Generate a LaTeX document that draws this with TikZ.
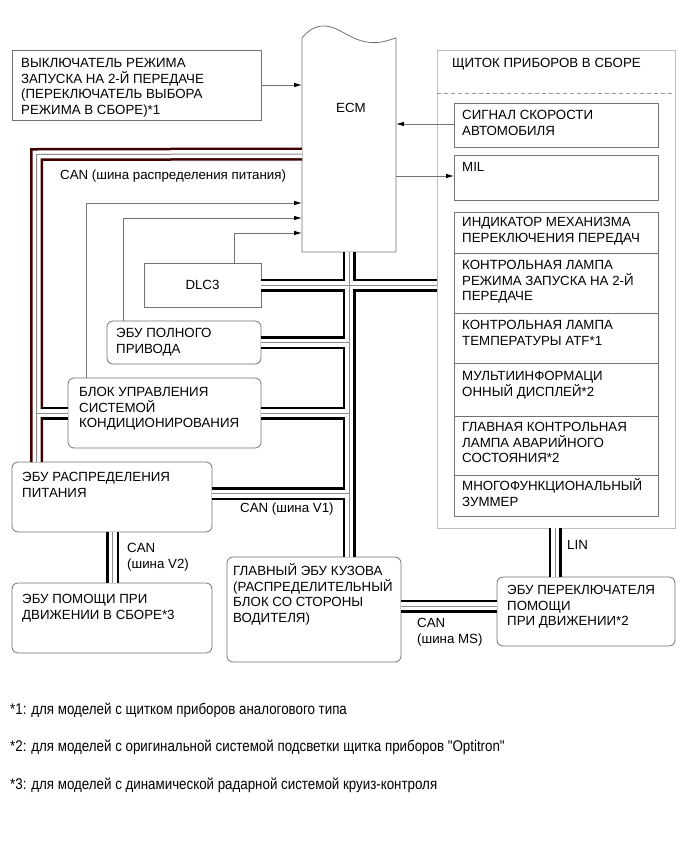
\documentclass[tikz,border=0pt]{standalone}
\usepackage{fontspec}
\usepackage{graphicx}
\setmainfont{Liberation Sans}
\usetikzlibrary{arrows.meta}
\newcommand\mainfs{\fontsize{13.3}{15.7}\selectfont}
\newcommand\notefs{\fontsize{15.5}{17}\selectfont}
\newcommand\notetxt[1]{\scalebox{0.86}[1]{#1}}
\tikzset{
  box/.style={draw=black!55, line width=0.8pt, anchor=north west, inner sep=0pt, outer sep=0pt},
  rbox/.style={box, rounded corners=6pt},
  pbox/.style={box, draw=black!25, line width=1pt},
  txt/.style={anchor=base west, inner sep=0pt, align=left, font=\mainfs},
  ctxt/.style={inner sep=0pt, font=\mainfs},
  note/.style={anchor=base west, inner sep=0pt, font=\notefs},
  thin/.style={draw=black!55, line width=0.8pt},
  arr/.style={thin, -{Latex[length=8pt,width=4.5pt,black]}},
  outerP/.style={draw=red!25!black, line width=13pt},
  outerB/.style={draw=black, line width=13pt},
  innerW/.style={draw=white, line width=8pt},
  midG/.style={draw=black!45, line width=1pt},
}
\newcommand\busnet[2]{%
  \draw[#1] ([yshift=-116pt]ecm.north west) -- (pwc) -- (pwc |- pd.north);
  \draw[#2] (pwc |- ac.west) -- (ac.west);
  \draw[#2] (ecm.south) -- (ecm.south |- mb.north);
  \draw[#2] (dlc.east) -- (dlc.east -| panel.west);
  \draw[#2] (awd.east) -- (awd.east -| ecm.south);
  \draw[#2] (ac.east) -- (ac.east -| ecm.south);
  \draw[#2] (pdr) -- (pdr -| ecm.south);
  \draw[#2] (pd.south -| pdv) -- (da.north -| pdv);
  \draw[#2] (mbr) -- (mbr -| sw.west);
  \draw[#2] (linb) -- (linb |- panel.south);
}
\begin{document}
\begin{tikzpicture}[x=1pt,y=-1pt]
\useasboundingbox[fill=white] (0,0) rectangle (691,854);

% ---- boxes ----
\node[box, minimum width=249pt, minimum height=70pt] (b1) at (12,50) {};
\node[txt] (b1t) at (21,114.6) {ВЫКЛЮЧАТЕЛЬ РЕЖИМА\\ЗАПУСКА НА 2-Й ПЕРЕДАЧЕ\\(ПЕРЕКЛЮЧАТЕЛЬ ВЫБОРА\\РЕЖИМА В СБОРЕ)*1};

\node[anchor=north west, minimum width=94pt, minimum height=214pt, inner sep=0pt, outer sep=0pt] (ecm) at (302,38) {};
\draw[thin] (ecm.north west) -- (ecm.south west) -- (ecm.south east) -- (ecm.north east)
  .. controls (385,41) and (378,45) .. (362,41)
  .. controls (345,36) and (336,25) .. (322,26)
  .. controls (312,27) and (306,33) .. (ecm.north west);
\node[ctxt] (ecmt) at (351,108) {ECM};

\node[pbox, minimum width=238pt, minimum height=478pt] (panel) at (437,50) {};
\draw[draw=black!40, line width=0.7pt, dash pattern=on 4pt off 3pt] (panel.west |- 0,93) coordinate (dl) -- (panel.east |- dl);
\node[txt] (panelt) at (452,67.5) {ЩИТОК ПРИБОРОВ В СБОРЕ};

\node[box, minimum width=204pt, minimum height=44pt] (sig) at (454,103) {};
\node[txt] (sigt) at (462,135.2) {СИГНАЛ СКОРОСТИ\\АВТОМОБИЛЯ};
\node[box, minimum width=204pt, minimum height=45pt] (mil) at (454,155) {};
\node[txt] (milt) at (462,171.5) {MIL};
\node[box, minimum width=204pt, minimum height=41pt] (ind) at (454,212) {};
\node[txt] (indt) at (462,242.2) {ИНДИКАТОР МЕХАНИЗМА\\ПЕРЕКЛЮЧЕНИЯ ПЕРЕДАЧ};
\node[box, minimum width=204pt, minimum height=60pt] (lmp) at (454,253) {};
\node[txt] (lmpt) at (462,300.9) {КОНТРОЛЬНАЯ ЛАМПА\\РЕЖИМА ЗАПУСКА НА 2-Й\\ПЕРЕДАЧЕ};
\node[box, minimum width=204pt, minimum height=50pt] (atf) at (454,313) {};
\node[txt] (atft) at (462,345.2) {КОНТРОЛЬНАЯ ЛАМПА\\ТЕМПЕРАТУРЫ ATF*1};
\node[box, minimum width=204pt, minimum height=53pt] (mid) at (454,363) {};
\node[txt] (midt) at (462,396.2) {МУЛЬТИИНФОРМАЦИ\\ОННЫЙ ДИСПЛЕЙ*2};
\node[box, minimum width=204pt, minimum height=59pt] (mwl) at (454,416) {};
\node[txt] (mwlt) at (462,462.9) {ГЛАВНАЯ КОНТРОЛЬНАЯ\\ЛАМПА АВАРИЙНОГО\\СОСТОЯНИЯ*2};
\node[box, minimum width=204pt, minimum height=41pt] (buz) at (454,475) {};
\node[txt] (buzt) at (462,506.2) {МНОГОФУНКЦИОНАЛЬНЫЙ\\ЗУММЕР};

\node[box, minimum width=117pt, minimum height=44pt] (dlc) at (144,263) {};
\node[ctxt] (dlct) at (dlc.center) {DLC3};
\node[rbox, minimum width=154pt, minimum height=43pt] (awd) at (107,321) {};
\node[txt] (awdt) at (116,353.2) {ЭБУ ПОЛНОГО\\ПРИВОДА};
\node[rbox, minimum width=193pt, minimum height=70pt] (ac) at (68,378) {};
\node[txt] (act) at (79,427.9) {БЛОК УПРАВЛЕНИЯ\\СИСТЕМОЙ\\КОНДИЦИОНИРОВАНИЯ};
\node[rbox, minimum width=200pt, minimum height=70pt] (pd) at (12,462) {};
\node[txt] (pdt) at (22,497.2) {ЭБУ РАСПРЕДЕЛЕНИЯ\\ПИТАНИЯ};
\node[rbox, minimum width=200pt, minimum height=70pt] (da) at (12,583) {};
\node[txt] (dat) at (22,619.2) {ЭБУ ПОМОЩИ ПРИ\\ДВИЖЕНИИ В СБОРЕ*3};
\node[rbox, minimum width=174pt, minimum height=105pt] (mb) at (227,557) {};
\node[txt] (mbt) at (233,622.6) {ГЛАВНЫЙ ЭБУ КУЗОВА\\(РАСПРЕДЕЛИТЕЛЬНЫЙ\\БЛОК СО СТОРОНЫ\\ВОДИТЕЛЯ)};
\node[rbox, minimum width=178pt, minimum height=69pt] (sw) at (497,577) {};
\node[txt] (swt) at (507,625.9) {ЭБУ ПЕРЕКЛЮЧАТЕЛЯ\\ПОМОЩИ\\ПРИ ДВИЖЕНИИ*2};

% ---- bus helper coordinates ----
\coordinate (pwc) at (36.5,154.5);
\coordinate (pdr) at ([yshift=3.5pt]pd.east);
\coordinate (pdv) at (112.5,0);
\coordinate (mbr) at ([yshift=3.5pt]mb.east);
\coordinate (linb) at ([xshift=58pt]sw.north west);

\busnet{outerP}{outerB}
\busnet{innerW}{innerW}
\busnet{midG}{midG}

% ---- bus labels ----
\node[txt] (l1) at (60,179.5) {CAN (шина распределения питания)};
\node[txt] (l2) at (240,512.5) {CAN (шина V1)};
\node[txt] (l3) at (127,568.2) {CAN\\(шина V2)};
\node[txt] (l4) at (417,643.2) {CAN\\(шина MS)};
\node[txt] (l5) at (567,549.5) {LIN};

% ---- signal arrows ----
\draw[arr] ([yshift=-35pt]b1.north east) -- ([yshift=-35pt]b1.north east -| ecm.west);
\draw[arr] ([yshift=-21pt]sig.north west) -- ([yshift=-21pt]sig.north west -| ecm.east);
\draw[arr] ([yshift=-21pt]mil.north west -| ecm.east) -- ([yshift=-21pt]mil.north west);
\draw[arr] ([xshift=18pt]ac.north west) |- ([yshift=-165pt]ecm.north west);
\draw[arr] ([xshift=16pt]awd.north west) |- ([yshift=-180pt]ecm.north west);
\draw[arr] ([xshift=90pt]dlc.north west) |- ([yshift=-195pt]ecm.north west);

% ---- notes ----
\node[note] (n1) at (10,714) {\notetxt{*1: для моделей с щитком приборов аналогового типа}};
\node[note] (n2) at (10,751) {\notetxt{*2: для моделей с оригинальной системой подсветки щитка приборов \textquotedbl Optitron\textquotedbl}};
\node[note] (n3) at (10,789) {\notetxt{*3: для моделей с динамической радарной системой круиз-контроля}};
\end{tikzpicture}
\end{document}
